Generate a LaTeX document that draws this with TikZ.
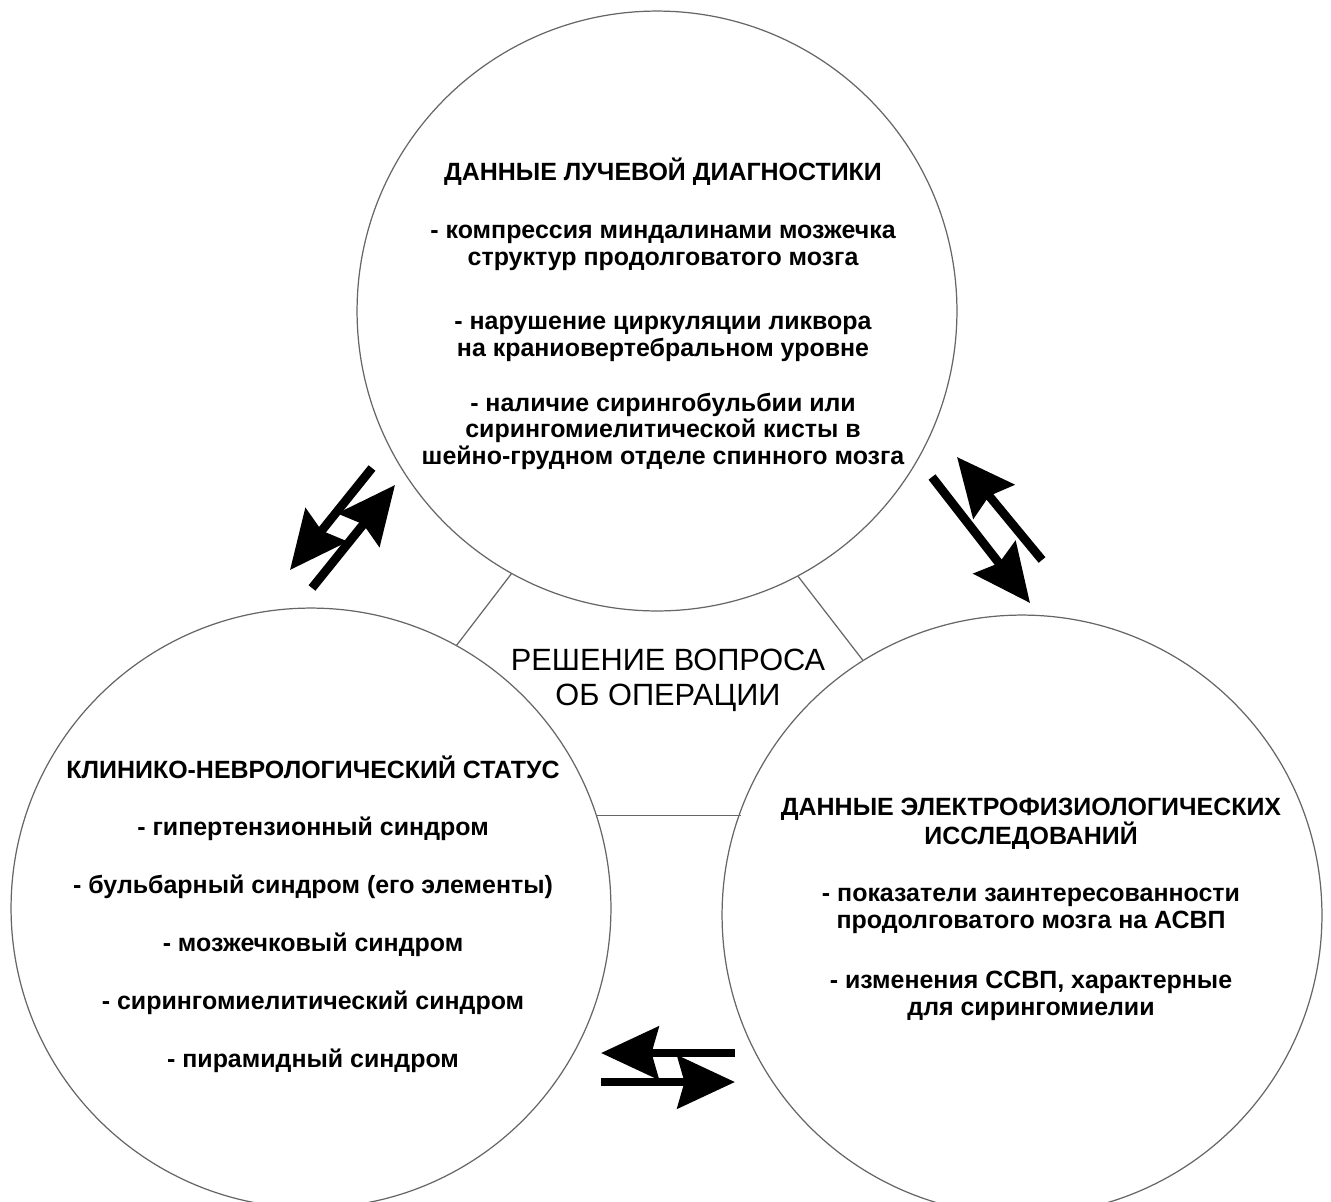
\documentclass[tikz,border=0pt]{standalone}
\usepackage{fontspec}
\setmainfont{Liberation Sans}
\usetikzlibrary{arrows.meta}
\tikzset{
  circ/.style={circle, draw=black!60, line width=0.7pt, minimum size=12cm, inner sep=0pt},
  link/.style={draw=black!60, line width=0.7pt},
  body/.style={align=center, inner sep=0pt, font=\bfseries\fontsize{14.2}{15.3}\selectfont},
  midtext/.style={align=center, inner sep=0pt, font=\fontsize{17.5}{19.8}\selectfont},
  dbl/.style={line width=5pt, -{Stealth[length=1.15cm,width=1.05cm,inset=0.14cm]}}
}
\begin{document}
\begin{tikzpicture}[x=0.02cm,y=-0.02cm]
\useasboundingbox (0,0) rectangle (1331,1201);
\node[circ] (top) at (657,311) {};
\node[circ] (left) at (311,908) {};
\node[circ] (right) at (1022,915) {};
\draw[link] (top.-119.4) -- (left.61.5);
\draw[link] (top.-62.8) -- (right.122.6);
\coordinate (hl) at (left.18.9);
\coordinate (hr) at (right.159.7);
\draw[link] (hl) -- (hl -| hr);
\node[body] (ttext) at (663,314) {ДАННЫЕ ЛУЧЕВОЙ ДИАГНОСТИКИ\\[0.62cm]
- компрессия миндалинами мозжечка\\
структур продолговатого мозга\\[0.74cm]
- нарушение циркуляции ликвора\\
на краниовертебральном уровне\\[0.56cm]
- наличие сирингобульбии или\\
сирингомиелитической кисты в\\
шейно-грудном отделе спинного мозга};
\node[body] (ltext) at (313,914) {КЛИНИКО-НЕВРОЛОГИЧЕСКИЙ СТАТУС\\[0.62cm]
- гипертензионный синдром\\[0.62cm]
- бульбарный синдром (его элементы)\\[0.62cm]
- мозжечковый синдром\\[0.62cm]
- сирингомиелитический синдром\\[0.62cm]
- пирамидный синдром};
\node[body] (rtext) at (1031,909) {ДАННЫЕ ЭЛЕКТРОФИЗИОЛОГИЧЕСКИХ\\
ИССЛЕДОВАНИЙ\\[0.6cm]
- показатели заинтересованности\\
продолговатого мозга на АСВП\\[0.66cm]
- изменения ССВП, характерные\\
для сирингомиелии};
\node[midtext] (mtext) at (668,680) {РЕШЕНИЕ ВОПРОСА\\ОБ ОПЕРАЦИИ};
% top-left pair
\coordinate (a1s) at (372,468); \coordinate (a1e) at (290,570);
\coordinate (a2s) at (312,588); \coordinate (a2e) at (395,485);
\draw[dbl] (a1s) -- (a1e);
\draw[dbl] (a2s) -- (a2e);
% top-right pair
\coordinate (b1s) at (932,477); \coordinate (b1e) at (1030,603);
\coordinate (b2s) at (1042,560); \coordinate (b2e) at (957,457);
\draw[dbl] (b1s) -- (b1e);
\draw[dbl] (b2s) -- (b2e);
% bottom pair
\coordinate (c1s) at (735,1053); \coordinate (c1e) at (601,1053);
\coordinate (c2s) at (601,1082); \coordinate (c2e) at (735,1082);
\draw[dbl] (c1s) -- (c1e);
\draw[dbl] (c2s) -- (c2e);
\end{tikzpicture}
\end{document}
